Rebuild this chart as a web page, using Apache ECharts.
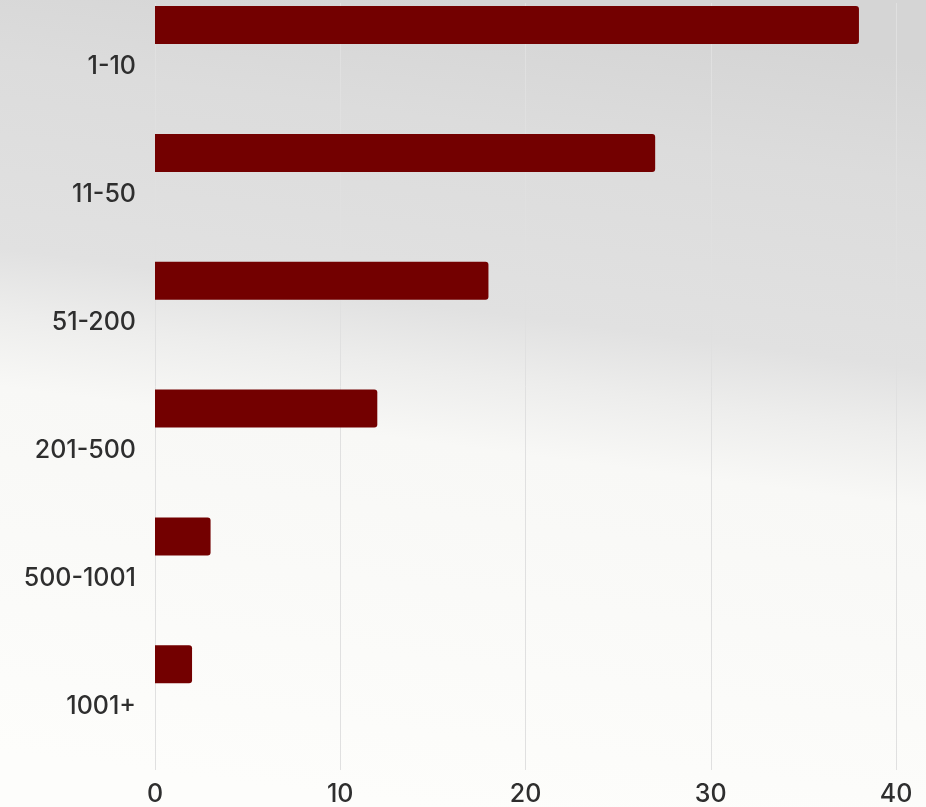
<!DOCTYPE html>
<html>
<head>
<meta charset="utf-8">
<script src="https://cdn.jsdelivr.net/npm/echarts@6/dist/echarts.min.js"></script>
<style>
html,body{margin:0;padding:0;width:926px;height:807px;overflow:hidden;}
#chart{width:926px;height:807px;}
</style>
</head>
<body>
<div id="chart"></div>
<script>
const categories = ['1-10', '11-50', '51-200', '201-500', '500-1001', '1001+'];
const counts = [38, 27, 18, 12, 3, 2];
const xTicks = [0, 10, 20, 30, 40];

const chart = echarts.init(document.getElementById('chart'));
chart.setOption({
  backgroundColor: new echarts.graphic.LinearGradient(0.5, 0, 0.387, 0.99, [
    { offset: 0, color: '#d5d5d5' },
    { offset: 0.15, color: '#dcdcdc' },
    { offset: 0.38, color: '#e1e1e1' },
    { offset: 0.46, color: '#ededec' },
    { offset: 0.55, color: '#f8f8f6' },
    { offset: 1, color: '#fdfdfb' }
  ]),
  animation: false,
  grid: { left: 155, right: 30, top: 3, bottom: 37, containLabel: false },
  xAxis: {
    type: 'value',
    min: xTicks[0],
    max: xTicks[xTicks.length - 1],
    interval: 10,
    axisLine: { show: false },
    axisTick: { show: false },
    splitLine: { show: true, lineStyle: { color: '#e0e0e0', width: 1 } },
    axisLabel: { color: '#2e2e2e', fontSize: 25, fontWeight: 500, fontFamily: 'Inter', margin: 12 }
  },
  yAxis: {
    type: 'category',
    data: categories,
    inverse: true,
    axisLine: { show: false },
    axisTick: { show: false },
    splitLine: { show: false },
    axisLabel: { color: '#2e2e2e', fontSize: 25, fontWeight: 500, fontFamily: 'Inter', margin: 19 }
  },
  series: [
    {
      name: 'Companies',
      type: 'bar',
      data: counts,
      barWidth: 38,
      barGap: '120%',
      itemStyle: { color: '#730000', borderRadius: [0, 3, 3, 0] }
    },
    {
      name: 'spacer',
      type: 'bar',
      data: categories.map(() => null),
      barWidth: 38,
      silent: true
    }
  ]
});
</script>
</body>
</html>
